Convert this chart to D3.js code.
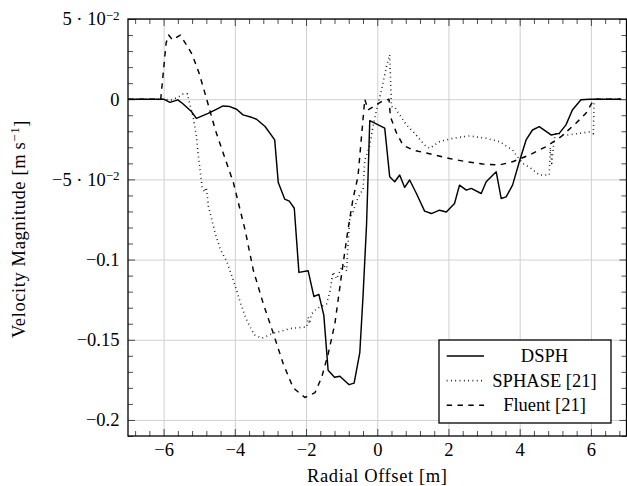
<!DOCTYPE html>
<html>
<head>
<meta charset="utf-8">
<script src="https://cdn.jsdelivr.net/npm/d3@7"></script>
<style>
  body { margin: 0; background: #fff; }
</style>
</head>
<body>
<div id="chart"></div>
<script>
////////////////////////////////////////////////////////////////////////
// Data (x = radial offset [m], y = velocity [m/s])

let dsph = [
  [-7, 0], [-6.0, 0], [-5.82, -0.002], [-5.6, -0.0004], [-5.45, -0.003],
  [-5.22, -0.0077], [-5.08, -0.012], [-4.98, -0.011], [-4.75, -0.0088],
  [-4.52, -0.0063], [-4.33, -0.0042], [-4.14, -0.0046], [-3.95, -0.0063],
  [-3.77, -0.0098], [-3.53, -0.0113], [-3.39, -0.0125], [-3.15, -0.017],
  [-2.88, -0.0254], [-2.78, -0.052], [-2.6, -0.0623], [-2.47, -0.0636],
  [-2.33, -0.068], [-2.2, -0.108], [-1.94, -0.107], [-1.78, -0.123],
  [-1.64, -0.1217], [-1.5, -0.1348], [-1.38, -0.169], [-1.2, -0.1734],
  [-1.05, -0.1727], [-0.79, -0.178], [-0.65, -0.177], [-0.49, -0.158],
  [-0.40, -0.123], [-0.30, -0.078], [-0.21, -0.0134], [0.21, -0.018],
  [0.35, -0.0484], [0.49, -0.0515], [0.63, -0.0473], [0.77, -0.055],
  [0.91, -0.0504], [1.10, -0.0588], [1.33, -0.0698], [1.52, -0.0713],
  [1.75, -0.0692], [1.94, -0.0703], [2.17, -0.065], [2.31, -0.0536],
  [2.50, -0.0567], [2.64, -0.0556], [2.92, -0.0588], [3.06, -0.0515],
  [3.34, -0.0452], [3.48, -0.0619], [3.62, -0.0609], [3.80, -0.0536],
  [3.99, -0.039], [4.18, -0.0254], [4.36, -0.0192], [4.55, -0.0171],
  [4.88, -0.0223], [5.11, -0.0213], [5.30, -0.016], [5.48, -0.0067],
  [5.72, -0.0004], [5.95, 0], [6.85, 0]
];

let sphase = [
  [-7, 0], [-6.0, 0], [-5.78, -0.0004], [-5.59, 0.0013], [-5.45, 0.0033],
  [-5.33, 0.0033], [-5.3, 0.0], [-5.17, -0.011], [-5.08, -0.023],
  [-5.03, -0.034], [-4.92, -0.0546], [-4.85, -0.058], [-4.80, -0.055],
  [-4.74, -0.067], [-4.63, -0.0765], [-4.55, -0.0838], [-4.40, -0.094],
  [-4.22, -0.1015], [-4.04, -0.113], [-3.85, -0.1265], [-3.70, -0.136],
  [-3.57, -0.142], [-3.45, -0.147], [-3.24, -0.149], [-2.92, -0.146],
  [-2.45, -0.143], [-1.98, -0.142], [-1.94, -0.136], [-1.90, -0.140],
  [-1.85, -0.134], [-1.70, -0.1306], [-1.42, -0.1275], [-1.33, -0.120],
  [-1.24, -0.1077], [-1.14, -0.112], [-0.96, -0.1025], [-0.86, -0.107],
  [-0.82, -0.09], [-0.77, -0.075], [-0.68, -0.07], [-0.55, -0.062],
  [-0.45, -0.058], [-0.40, -0.057], [-0.35, -0.038], [-0.21, -0.029],
  [-0.12, -0.017], [-0.02, -0.0067], [0.12, 0.0058], [0.26, 0.0204],
  [0.35, 0.0277], [0.40, -0.0046], [0.49, -0.005], [0.63, -0.0098],
  [0.82, -0.016], [1.05, -0.0213], [1.33, -0.0286], [1.47, -0.0306],
  [1.75, -0.0265], [2.12, -0.0244], [2.59, -0.0229], [3.06, -0.0244],
  [3.43, -0.0265], [3.80, -0.0317], [4.08, -0.040], [4.32, -0.0431],
  [4.55, -0.0473], [4.83, -0.0473], [4.86, -0.030], [4.90, -0.040],
  [4.97, -0.025], [5.02, -0.021], [5.30, -0.0225], [5.60, -0.0215],
  [5.95, -0.0205], [6.07, -0.0215], [6.09, 0], [6.85, 0]
];

let fluent = [
  [-7, 0], [-6.08, 0], [-5.93, 0.035], [-5.86, 0.040], [-5.75, 0.037],
  [-5.53, 0.040], [-5.39, 0.035], [-5.2, 0.028], [-5.0, 0.016],
  [-4.79, 0.0], [-4.55, -0.019], [-4.32, -0.034], [-4.04, -0.052],
  [-3.71, -0.0817], [-3.48, -0.1067], [-3.20, -0.1275], [-2.92, -0.146],
  [-2.64, -0.165], [-2.36, -0.18], [-2.03, -0.186], [-1.75, -0.183],
  [-1.56, -0.1734], [-1.38, -0.159], [-1.19, -0.14], [-1.0, -0.109],
  [-0.82, -0.081], [-0.68, -0.062], [-0.54, -0.048], [-0.35, 0.0],
  [-0.26, -0.0067], [0.12, -0.0015], [0.33, 0.0], [0.37, -0.011],
  [0.54, -0.021], [0.72, -0.0286], [1.0, -0.0317], [1.47, -0.034],
  [2.03, -0.037], [2.50, -0.039], [2.96, -0.0404], [3.43, -0.041],
  [3.80, -0.039], [4.27, -0.0348], [4.74, -0.0296], [5.16, -0.0234],
  [5.58, -0.015], [5.86, -0.0088], [6.09, 0], [6.85, 0]
];

let seriesNames = ["DSPH", "SPHASE [21]", "Fluent [21]"];

let xTicks = [-6, -4, -2, 0, 2, 4, 6];
let yTicks = [0.05, 0, -0.05, -0.1, -0.15, -0.2];
// tick text: [mantissa part, superscript]
let yTickLabels = [["5 · 10", "−2"], ["0", ""], ["−5 · 10", "−2"],
                   ["−0.1", ""], ["−0.15", ""], ["−0.2", ""]];

////////////////////////////////////////////////////////////////////////
// svg + scales

let width = 627;
let height = 486;
let plotL = 128, plotR = 626.5, plotT = 19, plotB = 436;
let serif = "Liberation Serif";
let fontPx = "18.5px";

let svg = d3.select("#chart")
  .append("svg")
  .attr("width", width).attr("height", height);

let xScale = d3.scaleLinear().domain([-7, 7]).range([plotL, plotR]);
let yScale = d3.scaleLinear().domain([-0.21, 0.05]).range([plotB, plotT]);

// minor tick positions
let xMinor = d3.range(-34, 35, 2).map(function(i) { return i / 5; })
  .filter(function(v) { return Math.abs(v) < 7 && Math.abs(v % 2) > 1e-6; });
let yMinor = d3.range(-21, 6).map(function(i) { return i / 100; })
  .filter(function(v) { return Math.abs(Math.round(v * 100) % 5) !== 0; });

////////////////////////////////////////////////////////////////////////
// grid

svg.append("g")
  .attr("transform", "translate(0," + plotB + ")")
  .call(d3.axisBottom(xScale).tickValues(xTicks).tickSize(-(plotB - plotT)).tickFormat(""))
  .call(function(g) { g.select(".domain").remove(); })
  .selectAll("line").attr("stroke", "#d0d0d0").attr("stroke-width", 1);

svg.append("g")
  .attr("transform", "translate(" + plotL + ",0)")
  .call(d3.axisLeft(yScale).tickValues(yTicks).tickSize(-(plotR - plotL)).tickFormat(""))
  .call(function(g) { g.select(".domain").remove(); })
  .selectAll("line").attr("stroke", "#d0d0d0").attr("stroke-width", 1);

////////////////////////////////////////////////////////////////////////
// inward ticks on all four sides

function tickGroup(axis, tx, ty) {
  svg.append("g")
    .attr("transform", "translate(" + tx + "," + ty + ")")
    .call(axis)
    .call(function(g) { g.select(".domain").remove(); g.selectAll("text").remove(); })
    .selectAll("line").attr("stroke", "#222").attr("stroke-width", 0.8);
}

tickGroup(d3.axisBottom(xScale).tickValues(xMinor).tickSize(-5), 0, plotB);
tickGroup(d3.axisTop(xScale).tickValues(xMinor).tickSize(-5), 0, plotT);
tickGroup(d3.axisLeft(yScale).tickValues(yMinor).tickSize(-5), plotL, 0);
tickGroup(d3.axisRight(yScale).tickValues(yMinor).tickSize(-5), plotR, 0);
tickGroup(d3.axisBottom(xScale).tickValues(xTicks).tickSize(-7), 0, plotB);
tickGroup(d3.axisTop(xScale).tickValues(xTicks).tickSize(-7), 0, plotT);
tickGroup(d3.axisLeft(yScale).tickValues(yTicks).tickSize(-7), plotL, 0);
tickGroup(d3.axisRight(yScale).tickValues(yTicks).tickSize(-7), plotR, 0);

////////////////////////////////////////////////////////////////////////
// tick labels

let xAxisG = svg.append("g")
  .attr("transform", "translate(0," + plotB + ")")
  .call(d3.axisBottom(xScale).tickValues(xTicks).tickSize(0).tickPadding(7)
    .tickFormat(function(d) { return d < 0 ? "−" + Math.abs(d) : String(d); }));
xAxisG.select(".domain").remove();
xAxisG.selectAll("text")
  .style("font-family", serif).style("font-size", fontPx).style("fill", "#000");

let yAxisG = svg.append("g")
  .attr("transform", "translate(" + plotL + ",0)")
  .call(d3.axisLeft(yScale).tickValues(yTicks).tickSize(0).tickPadding(8.5));
yAxisG.select(".domain").remove();
yAxisG.selectAll("text")
  .style("font-family", serif).style("font-size", fontPx).style("fill", "#000")
  .each(function(d, i) {
    let t = d3.select(this).text("");
    t.append("tspan").style("font-family", serif).text(yTickLabels[i][0]);
    if (yTickLabels[i][1]) {
      t.append("tspan").attr("dy", "-0.45em")
        .style("font-family", serif).style("font-size", "13px")
        .text(yTickLabels[i][1]);
    }
  });

////////////////////////////////////////////////////////////////////////
// curves

let line = d3.line()
  .x(function(d) { return xScale(d[0]); })
  .y(function(d) { return yScale(d[1]); });

let styles = [
  { data: dsph,   dash: null,      width: 1.45 },
  { data: sphase, dash: "0.8 3.5", width: 1.6 },
  { data: fluent, dash: "5.4 5.4", width: 1.45 }
];

svg.append("defs").append("clipPath").attr("id", "plotclip")
  .append("rect").attr("x", plotL).attr("y", plotT)
  .attr("width", plotR - plotL).attr("height", plotB - plotT);

svg.append("g").attr("clip-path", "url(#plotclip)")
  .selectAll(".curve")
  .data(styles)
  .enter()
  .append("path")
  .attr("class", "curve")
  .attr("d", function(s) { return line(s.data); })
  .attr("fill", "none")
  .attr("stroke", "#000")
  .attr("stroke-width", function(s) { return s.width; })
  .attr("stroke-linejoin", "round")
  .attr("stroke-dasharray", function(s) { return s.dash; });

// frame
svg.append("rect")
  .attr("x", plotL).attr("y", plotT)
  .attr("width", plotR - plotL).attr("height", plotB - plotT)
  .attr("fill", "none").attr("stroke", "#000").attr("stroke-width", 1.3);

////////////////////////////////////////////////////////////////////////
// axis titles

svg.append("text")
  .attr("x", (plotL + plotR) / 2).attr("y", 482)
  .attr("text-anchor", "middle")
  .style("font-family", serif).style("font-size", fontPx)
  .style("letter-spacing", "0.6px")
  .text("Radial Offset [m]");

let yTitle = svg.append("text")
  .attr("transform", "translate(25," + 229 + ") rotate(-90)")
  .attr("text-anchor", "middle")
  .style("font-family", serif).style("font-size", fontPx)
  .style("letter-spacing", "0.6px");
yTitle.append("tspan").style("font-family", serif).text("Velocity Magnitude [m\u2009s");
yTitle.append("tspan").attr("dy", "-0.45em")
  .style("font-family", serif).style("font-size", "13px").text("−1");
yTitle.append("tspan").attr("dy", "0.45em").style("font-family", serif).text("]");

////////////////////////////////////////////////////////////////////////
// legend

let legend = svg.append("g").attr("transform", "translate(439,340)");
legend.append("rect")
  .attr("width", 172).attr("height", 83)
  .attr("fill", "#fff").attr("stroke", "#000").attr("stroke-width", 1.3);

let rows = legend.selectAll(".row")
  .data(styles)
  .enter().append("g")
  .attr("class", "row")
  .attr("transform", function(d, i) { return "translate(0," + (16 + i * 24.6) + ")"; });

rows.append("line")
  .attr("x1", 7.7).attr("x2", 45)
  .attr("stroke", "#000")
  .attr("stroke-width", function(s) { return s.width; })
  .attr("stroke-dasharray", function(s) { return s.dash; });

rows.append("text")
  .attr("x", 105.5).attr("dy", "0.33em")
  .attr("text-anchor", "middle")
  .style("font-family", serif).style("font-size", fontPx)
  .text(function(d, i) { return seriesNames[i]; });
</script>
</body>
</html>
